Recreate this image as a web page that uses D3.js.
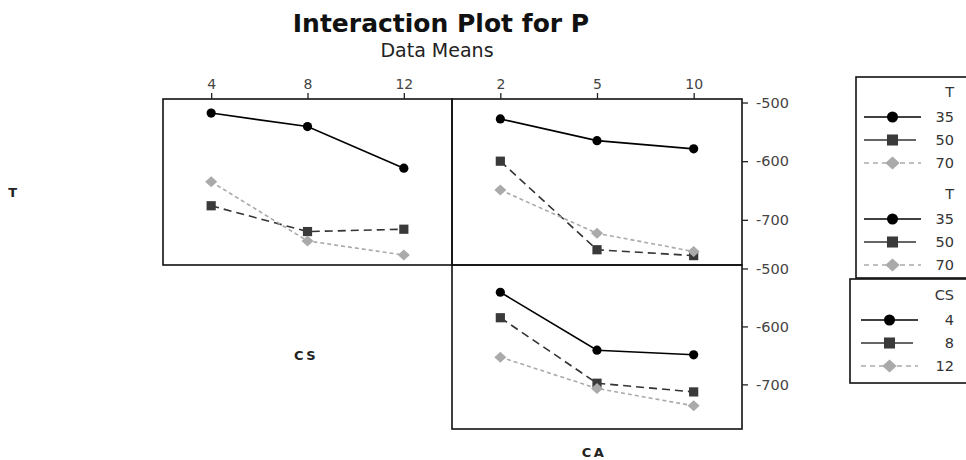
<!DOCTYPE html>
<html>
<head>
<meta charset="utf-8">
<script src="https://cdn.jsdelivr.net/npm/d3@7"></script>
<style>
  html, body { margin: 0; padding: 0; background: #fff; }
  svg { display: block; }
</style>
</head>
<body>
<script>
// Factor levels
const csLevels = [4, 8, 12];
const caLevels = [2, 5, 10];
const tLevels = [35, 50, 70];
const yTicks = [-500, -600, -700];

// Means of P for each T level across CS
const pT35byCS = [-518, -541, -612];
const pT50byCS = [-676, -720, -716];
const pT70byCS = [-635, -736, -760];

// Means of P for each T level across CA
const pT35byCA = [-528, -565, -579];
const pT50byCA = [-600, -751, -761];
const pT70byCA = [-649, -723, -754];

// Means of P for each CS level across CA
const pCS4byCA = [-541, -641, -649];
const pCS8byCA = [-585, -698, -713];
const pCS12byCA = [-653, -707, -737];

const W = 966, H = 460;
const FONT = "'DejaVu Sans', Verdana, sans-serif";
const svg = d3.select("body").append("svg")
  .attr("width", W).attr("height", H)
  .style("font-family", FONT);

// Line/marker style per level index
const styles = [
  { stroke: "#000", fill: "#000", dash: null, legendDash: null, shape: "circle" },
  { stroke: "#333", fill: "#3a3a3a", dash: "8,5", legendDash: null, shape: "square" },
  { stroke: "#aaa", fill: "#aaa", dash: "4,3", legendDash: "5,4", shape: "diamond" }
];

function drawMarker(g, shape, cx, cy, s, st) {
  if (shape === "circle") {
    g.append("circle").attr("cx", cx).attr("cy", cy).attr("r", 4.6 * s).attr("fill", st.fill);
  } else if (shape === "square") {
    const h = 4.6 * s;
    g.append("rect").attr("x", cx - h).attr("y", cy - h).attr("width", 2 * h).attr("height", 2 * h).attr("fill", st.fill);
  } else {
    const w = 6 * s, v = 5.5 * s;
    g.append("path")
      .attr("d", `M${cx},${cy - v}L${cx + w},${cy}L${cx},${cy + v}L${cx - w},${cy}Z`)
      .attr("fill", st.fill);
  }
}

const yDomain = [-777, -494];
const cols = [[163, 452], [452, 742]];
const rows = [[99, 265], [265, 429]];

const panels = [
  { col: 0, row: 0, levels: csLevels, series: [pT35byCS, pT50byCS, pT70byCS], top: true, right: false },
  { col: 1, row: 0, levels: caLevels, series: [pT35byCA, pT50byCA, pT70byCA], top: true, right: true },
  { col: 1, row: 1, levels: caLevels, series: [pCS4byCA, pCS8byCA, pCS12byCA], top: false, right: true }
];

panels.forEach(p => {
  const [x0, x1] = cols[p.col];
  const [y0, y1] = rows[p.row];
  const x = d3.scalePoint().domain(p.levels).range([x0, x1]).padding(0.5);
  const y = d3.scaleLinear().domain(yDomain).range([y1, y0]);
  const g = svg.append("g");

  const line = d3.line().x((d, i) => x(p.levels[i])).y(d => y(d));
  p.series.forEach((vals, si) => {
    const st = styles[si];
    g.append("path").datum(vals)
      .attr("d", line)
      .attr("fill", "none")
      .attr("stroke", st.stroke)
      .attr("stroke-width", 1.6)
      .attr("stroke-dasharray", st.dash);
  });
  p.series.forEach((vals, si) => {
    const st = styles[si];
    vals.forEach((v, i) => drawMarker(g, st.shape, x(p.levels[i]), y(v), 1, st));
  });

  g.append("rect")
    .attr("x", x0).attr("y", y0).attr("width", x1 - x0).attr("height", y1 - y0)
    .attr("fill", "none").attr("stroke", "#111").attr("stroke-width", 1.6);

  if (p.top) {
    const ax = svg.append("g").attr("transform", `translate(0,${y0})`)
      .call(d3.axisTop(x).tickSize(6).tickPadding(4));
    ax.select(".domain").remove();
    ax.selectAll("line").attr("stroke", "#222").attr("stroke-width", 1.3);
    ax.selectAll("text").attr("font-size", 14).attr("fill", "#444").attr("font-family", FONT);
  }
  if (p.right) {
    const ay = svg.append("g").attr("transform", `translate(${x1},0)`)
      .call(d3.axisRight(y).tickValues(yTicks).tickFormat(d => String(d)).tickSize(6).tickPadding(8));
    ay.select(".domain").remove();
    ay.selectAll("line").attr("stroke", "#222").attr("stroke-width", 1.3);
    ay.selectAll("text").attr("font-size", 14.5).attr("fill", "#444").attr("font-family", FONT);
  }
});

// Titles
svg.append("text").attr("x", 441).attr("y", 32).attr("text-anchor", "middle")
  .attr("font-size", 25).attr("font-weight", "bold").attr("fill", "#111")
  .text("Interaction Plot for P");
svg.append("text").attr("x", 437).attr("y", 57).attr("text-anchor", "middle")
  .attr("font-size", 19).attr("fill", "#222")
  .text("Data Means");

// Factor labels
const factorLabels = [
  { text: "T", x: 14, y: 197 },
  { text: "CS", x: 306, y: 360 },
  { text: "CA", x: 594, y: 457 }
];
factorLabels.forEach(f => {
  svg.append("text").attr("x", f.x).attr("y", f.y).attr("text-anchor", "middle")
    .attr("font-size", 13).attr("font-weight", "bold").attr("letter-spacing", 2.5)
    .attr("fill", "#222").text(f.text);
});

// Legends
const legends = [
  { title: "T", levels: tLevels, top: 92, lx0: 864, lx1: 921 },
  { title: "T", levels: tLevels, top: 194, lx0: 864, lx1: 921 },
  { title: "CS", levels: csLevels, top: 295, lx0: 861, lx1: 918 }
];
svg.append("rect").attr("x", 856).attr("y", 77).attr("width", 140).attr("height", 201)
  .attr("fill", "none").attr("stroke", "#111").attr("stroke-width", 1.6);
svg.append("rect").attr("x", 850).attr("y", 279).attr("width", 140).attr("height", 104)
  .attr("fill", "none").attr("stroke", "#111").attr("stroke-width", 1.6);

const rowOffsets = [25, 48, 71];
const textRight = 954;
legends.forEach(L => {
  const g = svg.append("g");
  g.append("text").attr("x", textRight).attr("y", L.top + 5).attr("text-anchor", "end")
    .attr("font-size", 14.5).attr("fill", "#333").text(L.title);
  L.levels.forEach((lv, i) => {
    const st = styles[i];
    const cy = L.top + rowOffsets[i];
    const x1 = st.shape === "square" ? L.lx1 - 5 : L.lx1;
    g.append("line").attr("x1", L.lx0).attr("x2", x1).attr("y1", cy).attr("y2", cy)
      .attr("stroke", st.stroke).attr("stroke-width", 1.6).attr("stroke-dasharray", st.legendDash);
    drawMarker(g, st.shape, (L.lx0 + L.lx1) / 2, cy, 1.2, st);
    g.append("text").attr("x", textRight).attr("y", cy + 5).attr("text-anchor", "end")
      .attr("font-size", 14.5).attr("fill", "#333").text(lv);
  });
});
</script>
</body>
</html>
